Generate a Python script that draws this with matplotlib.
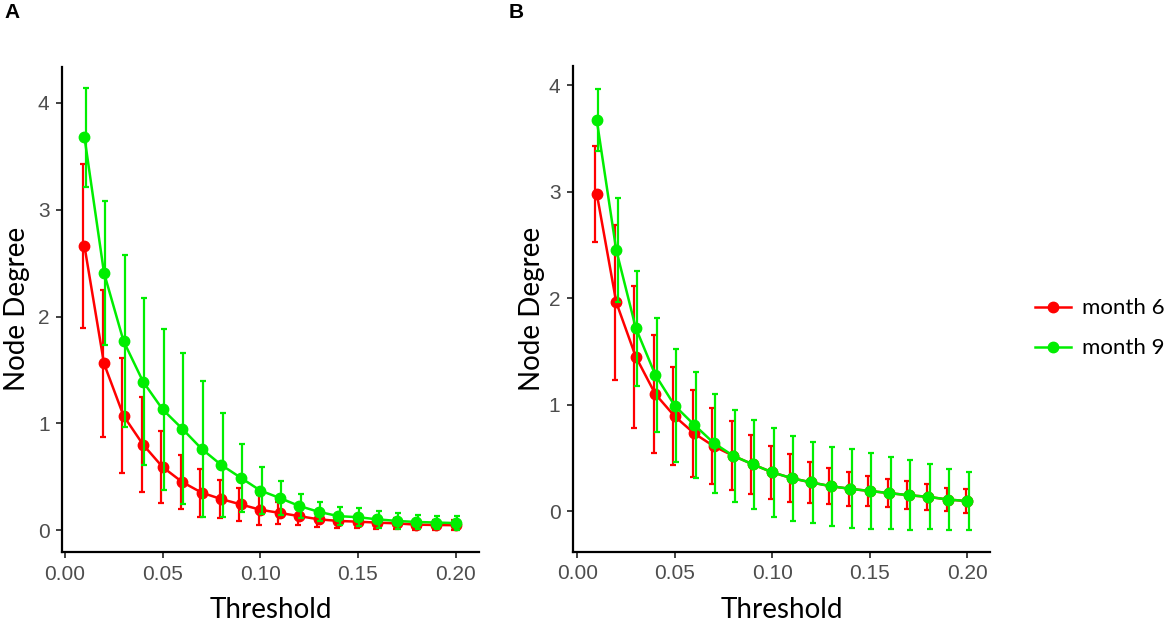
import matplotlib
matplotlib.use("Agg")
import matplotlib.pyplot as plt
import numpy as np

thresholds = [0.01, 0.02, 0.03, 0.04, 0.05, 0.06, 0.07, 0.08, 0.09, 0.10,
              0.11, 0.12, 0.13, 0.14, 0.15, 0.16, 0.17, 0.18, 0.19, 0.20]

# Panel A
a_m6_mean = [2.66, 1.56, 1.07, 0.80, 0.59, 0.45, 0.35, 0.29, 0.24, 0.19,
             0.16, 0.13, 0.10, 0.085, 0.078, 0.069, 0.062, 0.05, 0.047, 0.045]
a_m6_err = [0.77, 0.69, 0.54, 0.445, 0.34, 0.255, 0.225, 0.18, 0.155, 0.14,
            0.10, 0.08, 0.07, 0.067, 0.058, 0.055, 0.05, 0.048, 0.045, 0.045]
a_m9_mean = [3.68, 2.41, 1.77, 1.39, 1.13, 0.95, 0.76, 0.61, 0.49, 0.37,
             0.30, 0.225, 0.17, 0.13, 0.12, 0.10, 0.085, 0.075, 0.07, 0.065]
a_m9_err = [0.465, 0.675, 0.805, 0.785, 0.755, 0.71, 0.64, 0.49, 0.32, 0.22,
            0.155, 0.11, 0.09, 0.085, 0.085, 0.08, 0.075, 0.07, 0.065, 0.065]

# Panel B
b_m6_mean = [2.98, 1.96, 1.45, 1.10, 0.89, 0.73, 0.61, 0.52, 0.44, 0.365,
             0.31, 0.27, 0.235, 0.21, 0.19, 0.17, 0.15, 0.135, 0.11, 0.095]
b_m6_err = [0.45, 0.725, 0.665, 0.555, 0.46, 0.41, 0.355, 0.325, 0.275, 0.25,
            0.225, 0.195, 0.17, 0.16, 0.14, 0.135, 0.13, 0.125, 0.11, 0.115]
b_m9_mean = [3.67, 2.45, 1.72, 1.28, 0.99, 0.81, 0.64, 0.52, 0.44, 0.365,
             0.31, 0.27, 0.235, 0.21, 0.19, 0.17, 0.15, 0.135, 0.11, 0.095]
b_m9_err = [0.29, 0.49, 0.54, 0.535, 0.53, 0.50, 0.465, 0.435, 0.42, 0.415,
            0.40, 0.38, 0.37, 0.37, 0.355, 0.34, 0.33, 0.305, 0.29, 0.275]

series_labels = ["month 6", "month 9"]
colors = ["#FF0000", "#00EE00"]
panel_labels = ["A", "B"]
xticks = [0.00, 0.05, 0.10, 0.15, 0.20]
xticklabels = ["0.00", "0.05", "0.10", "0.15", "0.20"]
yticks = [0, 1, 2, 3, 4]

W, H = 1170, 625
fig = plt.figure(figsize=(W / 100, H / 100), dpi=100)

title_font = "Lato"
tick_font = "Liberation Sans"

panels = [
    dict(rect=[62 / W, 1 - 552 / H, 417 / W, 485.3 / H], ylim=(-0.206, 4.34),
         xlim=(-0.0015, 0.212),
         data=[(a_m6_mean, a_m6_err), (a_m9_mean, a_m9_err)],
         label_xy=(4 / W, 1 - 12 / H), ylab_x=-0.077),
    dict(rect=[573 / W, 1 - 551.7 / H, 417 / W, 485.7 / H], ylim=(-0.38, 4.18),
         xlim=(-0.0022, 0.2116),
         data=[(b_m6_mean, b_m6_err), (b_m9_mean, b_m9_err)],
         label_xy=(509 / W, 1 - 12 / H), ylab_x=-0.067),
]

dodge = 0.0007
x = np.array(thresholds)
handles = []
for p, plab in zip(panels, panel_labels):
    ax = fig.add_axes(p["rect"])
    for i, ((mean, err), col, lab) in enumerate(zip(p["data"], colors, series_labels)):
        off = -dodge if i == 0 else dodge
        ax.errorbar(x + off, mean, yerr=err, fmt="none", ecolor=col,
                    elinewidth=1.6, capsize=2.2, capthick=1.6, zorder=2 + i)
        h, = ax.plot(x, mean, "-o", color=col, lw=1.8, markersize=7.5,
                     zorder=3 + i, label=lab)
        if plab == "A":
            handles.append(h)
    ax.set_xlim(*p["xlim"])
    ax.set_ylim(*p["ylim"])
    ax.set_xticks(xticks)
    ax.set_xticklabels(xticklabels)
    ax.set_yticks(yticks)
    for s in ["top", "right"]:
        ax.spines[s].set_visible(False)
    for s in ["left", "bottom"]:
        ax.spines[s].set_linewidth(1.6)
        ax.spines[s].set_color("black")
    ax.tick_params(axis="both", length=4, width=1.3, color="#333333",
                   labelcolor="#4D4D4D", labelsize=15, pad=5)
    for t in ax.get_xticklabels() + ax.get_yticklabels():
        t.set_fontfamily(tick_font)
    ax.set_xlabel("Threshold", fontsize=20, fontfamily=title_font)
    ax.set_ylabel("Node Degree", fontsize=20, fontfamily=title_font)
    ax.xaxis.set_label_coords(0.5, -0.093)
    ax.yaxis.set_label_coords(p["ylab_x"], 0.5)
    fig.text(p["label_xy"][0], p["label_xy"][1], plab, fontsize=15,
             fontweight="bold", fontfamily="Liberation Sans", ha="left", va="center")

fig.legend(handles=handles, labels=series_labels, loc="center left",
           bbox_to_anchor=(1035 / W, 1 - 328.4 / H), frameon=False,
           borderpad=0, borderaxespad=0, handlelength=1.6, handletextpad=0.5,
           labelspacing=0.9, prop=dict(family=title_font, size=16))

fig.savefig("out.png", dpi=100)
